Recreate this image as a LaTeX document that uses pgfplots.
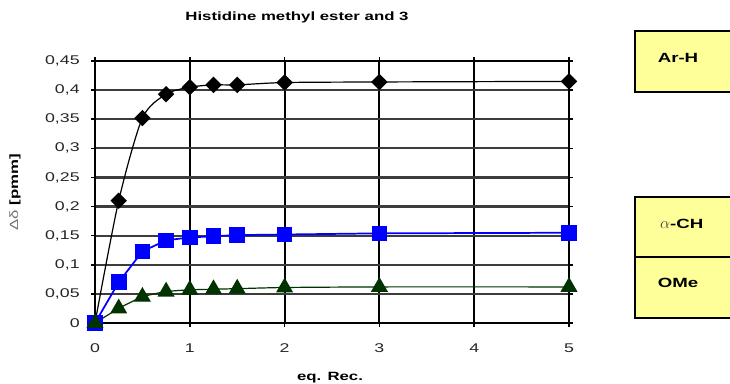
\documentclass[border=0pt]{standalone}
\usepackage{pgfplots}
\pgfplotsset{compat=1.18}
\usepackage{fontspec}
\setmainfont{Liberation Sans}[FakeStretch=1.4]
\definecolor{dkgreen}{RGB}{0,51,0}
\definecolor{boxyellow}{RGB}{255,255,153}
\definecolor{gridgray}{RGB}{60,60,60}
\begin{document}
\begin{tikzpicture}
\useasboundingbox (-71.25pt,-45pt) rectangle (476.25pt,242.25pt);
\begin{axis}[
  at={(0pt,0pt)}, anchor=south west,
  scale only axis, width=355.5pt, height=196.5pt,
  xmin=0, xmax=5, ymin=0, ymax=0.45,
  xtick={0,1,2,3,4,5},
  ytick={0,0.05,0.1,0.15,0.2,0.25,0.3,0.35,0.4,0.45},
  /pgf/number format/assume math mode=true,
  /pgf/number format/use comma,
  yticklabels={0,{0,05},{0,1},{0,15},{0,2},{0,25},{0,3},{0,35},{0,4},{0,45}},
  tick label style={font=\fontsize{9.5}{10}\selectfont, text=black!85},
  tick align=outside, major tick length=3pt,
  tick style={black, line width=1.2pt},
  xticklabel style={yshift=-9pt},
  yticklabel style={xshift=-5pt},
  axis line style={black, line width=1.4pt},
  xmajorgrids, ymajorgrids,
  major x grid style={black, line width=1.4pt},
  major y grid style={gridgray, line width=1.6pt},
  clip=false,
]
\addplot[black, line width=0.9pt, smooth, tension=0.45, mark=square*, mark size=3.9pt,
  mark options={rotate=45, fill=black}] coordinates {
 (0,0) (0.25,0.21) (0.5,0.352) (0.75,0.393) (1,0.405) (1.25,0.409) (1.5,0.409) (2,0.413) (3,0.414) (5,0.415)};
\addplot[blue, line width=1.3pt, mark=square*, mark size=5.2pt,
  mark options={fill=blue}] coordinates {
 (0,0) (0.25,0.070) (0.5,0.123) (0.75,0.142) (1,0.147) (1.25,0.149) (1.5,0.151) (2,0.152) (3,0.154) (5,0.155)};
\addplot[dkgreen, line width=0.9pt, smooth, tension=0.3, mark=triangle*, mark size=6.5pt,
  mark options={fill=dkgreen}] coordinates {
 (0,0) (0.25,0.025) (0.5,0.045) (0.75,0.054) (1,0.057) (1.25,0.058) (1.5,0.059) (2,0.061) (3,0.062) (5,0.062)};
\end{axis}
% title and axis labels
\node[font=\bfseries\fontsize{9}{10}\selectfont] at (151.5pt,229.5pt) {Histidine methyl ester and 3};
\node[font=\bfseries\fontsize{9}{10}\selectfont] at (176.25pt,-41.25pt) {eq. Rec.};
\node[rotate=90, font=\fontsize{9}{10}\selectfont] at (-60pt,98.25pt) {{\color{black!55}\mdseries Δδ} \textbf{[pmm]}};
% annotation boxes
\draw[black, line width=0.9pt, fill=boxyellow] (405pt,173.25pt) rectangle (482pt,219pt);
\node[font=\bfseries\fontsize{10}{11}\selectfont] at (437.25pt,198.75pt) {Ar-H};
\draw[black, line width=0.9pt, fill=boxyellow] (405pt,49.5pt) rectangle (482pt,94.5pt);
\draw[black, line width=0.9pt, fill=boxyellow] (405pt,3.75pt) rectangle (482pt,49.5pt);
\node[font=\bfseries\fontsize{10}{11}\selectfont] at (440pt,74.25pt) {{\mdseries\color{black!75}\fontsize{13}{13}\selectfont$\alpha$}-CH};
\node[font=\bfseries\fontsize{10}{11}\selectfont] at (437.25pt,30pt) {OMe};
\end{tikzpicture}
\end{document}
